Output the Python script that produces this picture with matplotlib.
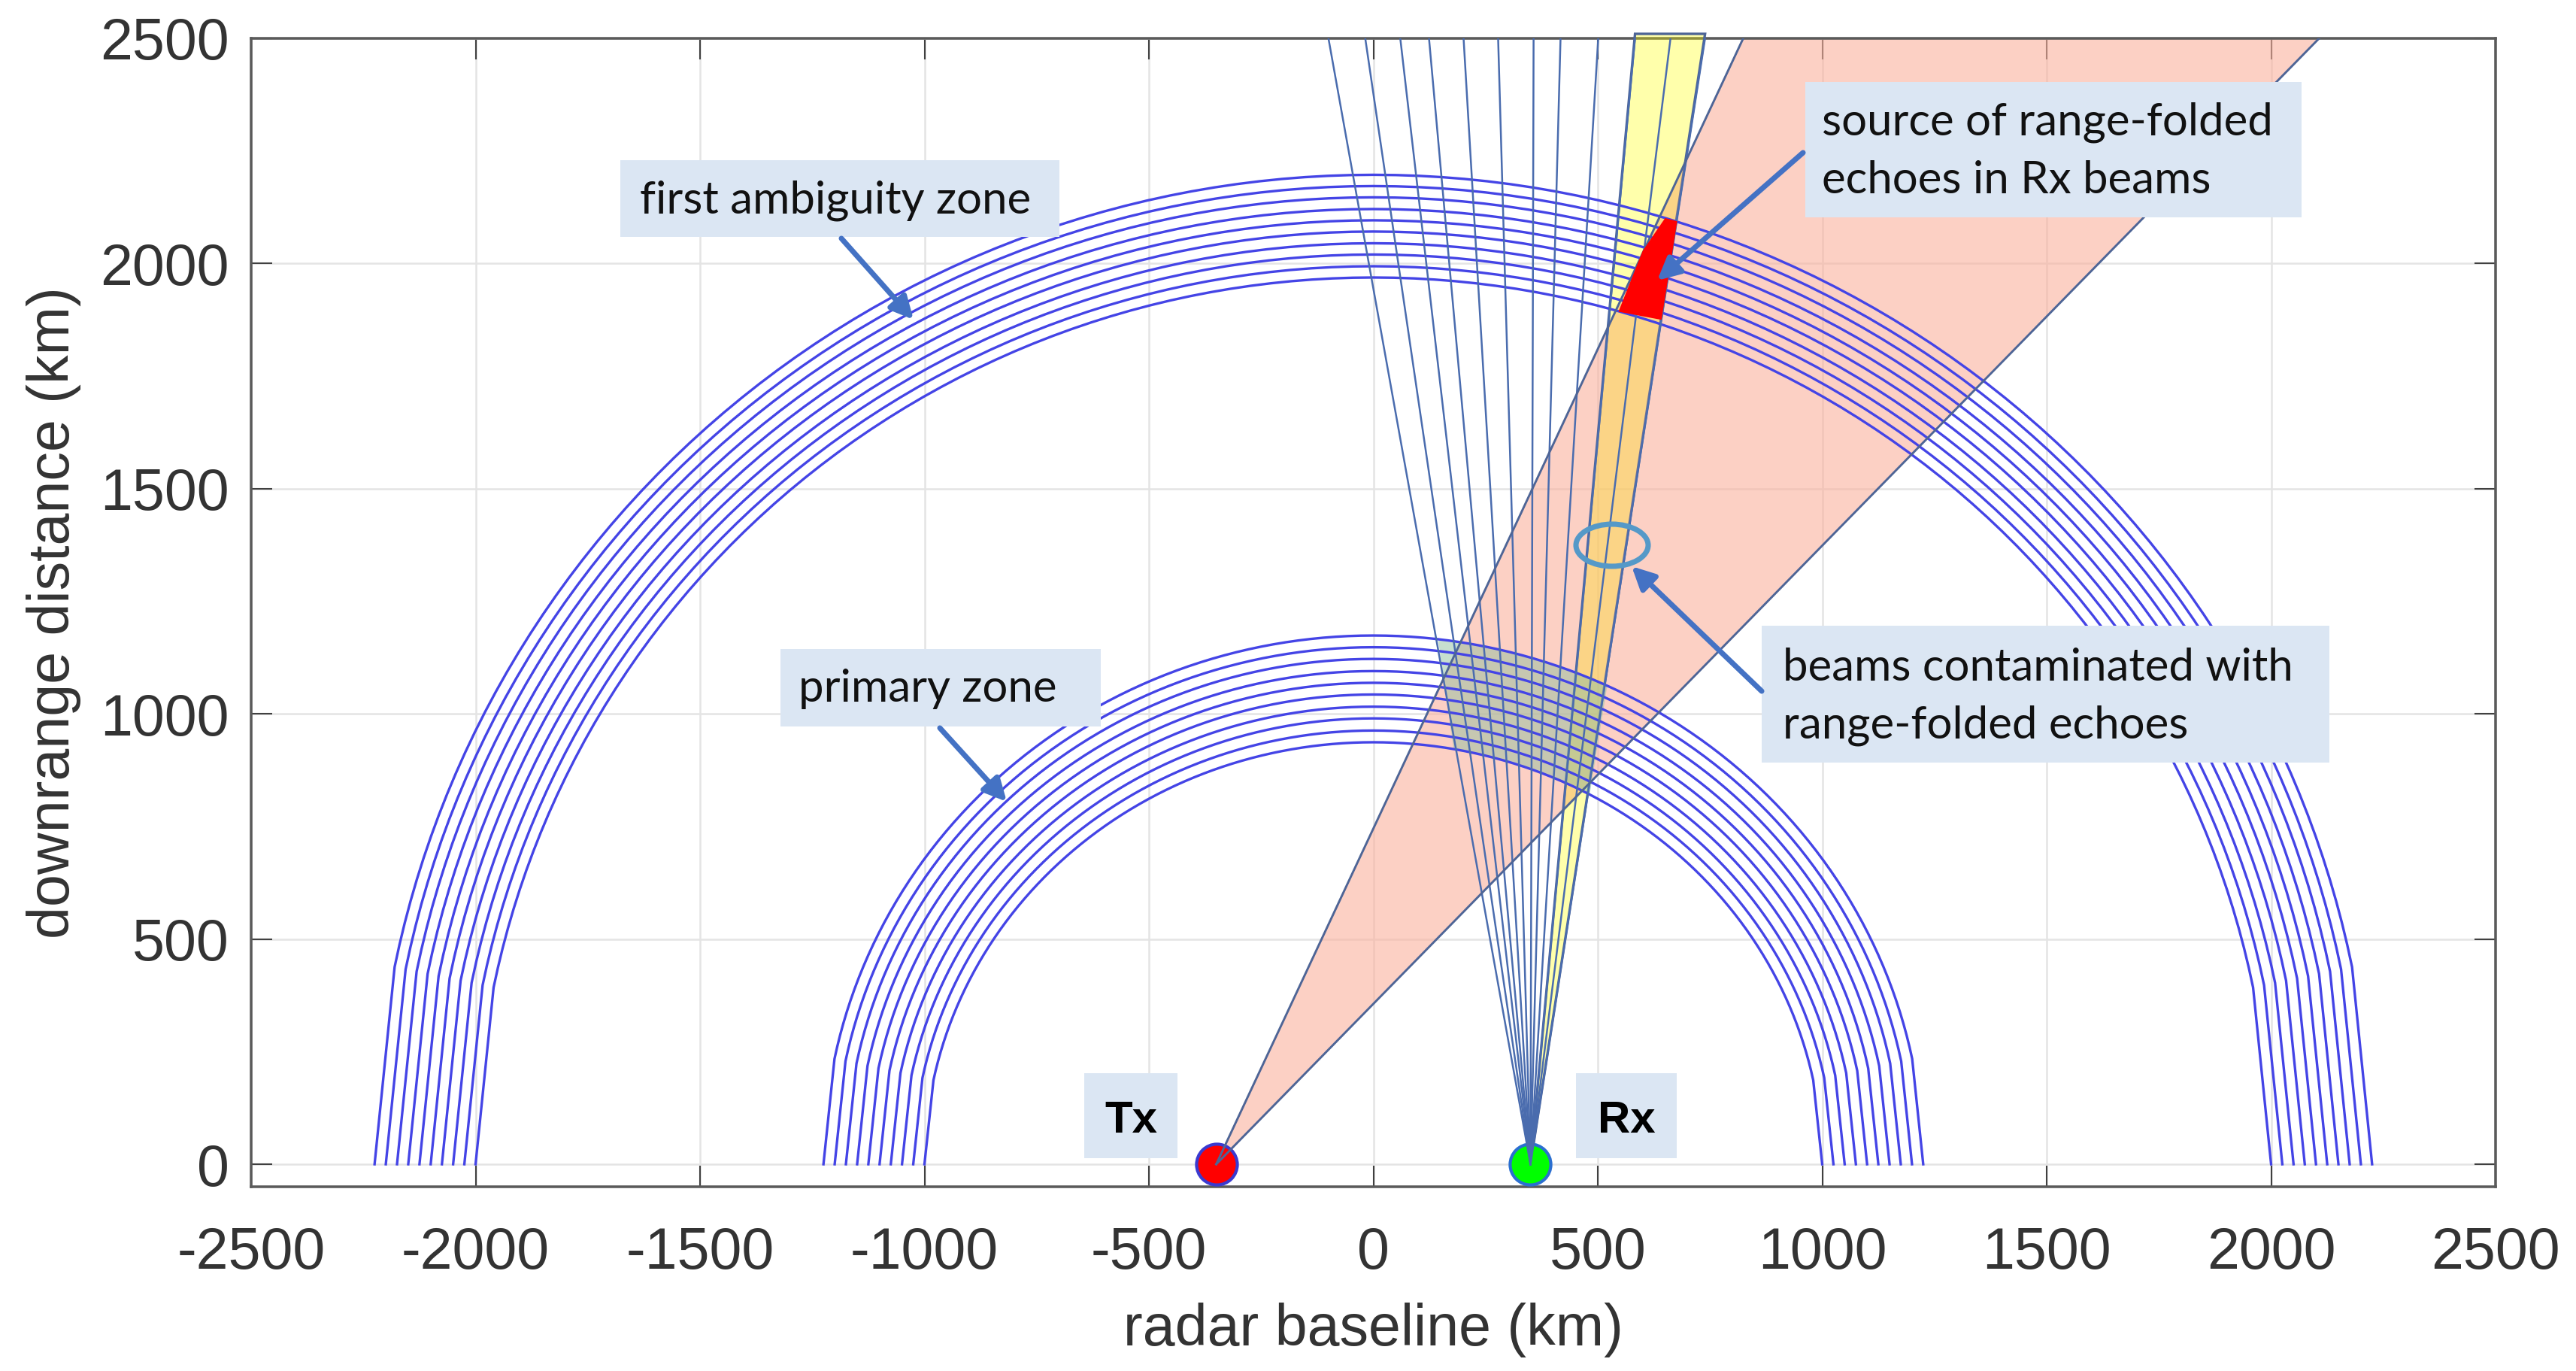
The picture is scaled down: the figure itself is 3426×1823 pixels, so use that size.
#!/usr/bin/env python3

import numpy as np
import matplotlib
matplotlib.use("Agg")
import matplotlib.pyplot as plt
from matplotlib.patches import Ellipse, FancyArrowPatch, Polygon, Rectangle

WIDTH, HEIGHT = 3426, 1823

tx_site = (-350, 0)
rx_site = (350, 0)

# ring semi-axes in km, read from where each ring meets the baseline and its crest
primary_major = [1000, 1025, 1050, 1075, 1100, 1125, 1150, 1175, 1200, 1225]
primary_minor = [937, 963, 990, 1016, 1043, 1069, 1095, 1122, 1148, 1174]
ambiguity_major = [2000, 2025, 2050, 2075, 2100, 2125, 2150, 2175, 2200, 2225]
ambiguity_minor = [1969, 1994, 2020, 2045, 2071, 2096, 2121, 2147, 2172, 2197]

# where the Rx beam edges reach the top of the plot (km)
rx_beam_tops = [-100, -18, 60, 124, 201, 278, 357, 417, 501, 583, 662, 739]
tx_beam_tops = [824, 2107]
top_range = 2500

# shaded cells, corners
primary_cell_x = [144, 250, 350, 450, 521, 482, 350, 250, 179]
primary_cell_y = [1166, 1149, 1125, 1092, 1062, 821, 878, 907, 922]
source_cell_x = [546, 600, 650, 677, 642]
source_cell_y = [1893, 2028, 2101, 2094, 1875]
overlap_x = [423, 482, 697, 523]
overlap_y = [787, 846, 2233, 1859]

x_ticks = [-2500, -2000, -1500, -1000, -500, 0, 500, 1000, 1500, 2000, 2500]
y_ticks = [0, 500, 1000, 1500, 2000, 2500]

RING_COLOR = "#4444E6"
BEAM_COLOR = "#4A6CAE"
EDGE_COLOR = "#4E6596"
BOX_COLOR = "#DBE6F3"
ARROW_COLOR = "#4472C4"

plt.rcParams["font.family"] = ["Liberation Sans", "DejaVu Sans"]
plt.rcParams["axes.unicode_minus"] = False

fig = plt.figure(figsize=(WIDTH / 300, HEIGHT / 300), dpi=300, facecolor="white")
ax = fig.add_axes([334 / WIDTH, 1 - 1578 / HEIGHT, (3319 - 334) / WIDTH, (1578 - 51) / HEIGHT])
ax.set_xlim(-2500, 2500)
ax.set_ylim(-50, 2500)

ax.set_xticks(x_ticks)
ax.set_yticks(y_ticks)
ax.grid(True, color="#E4E4E4", linewidth=0.6)
ax.set_axisbelow(True)
ax.tick_params(axis="both", direction="in", length=6.7, width=0.5, color="#404040",
               top=True, right=True, labelsize=18.5, labelcolor="#333333")
ax.tick_params(axis="x", pad=12.5)
ax.tick_params(axis="y", pad=7)
for spine in ax.spines.values():
    spine.set_linewidth(0.85)
    spine.set_color("#5A5A5A")
ax.set_xlabel("radar baseline (km)", fontsize=18.5, color="#333333", labelpad=7)
ax.set_ylabel("downrange distance (km)", fontsize=18.5, color="#333333", labelpad=6)

# Tx beam
ax.add_patch(Polygon([tx_site, (tx_beam_tops[0], top_range), (tx_beam_tops[1], top_range)],
                     closed=True, facecolor=(250 / 255, 177 / 255, 157 / 255), alpha=0.6,
                     edgecolor="none", zorder=2))

# last Rx beam in yellow, pokes slightly above the frame like the original
ax.add_patch(Polygon([rx_site, (rx_beam_tops[-3], top_range + 10), (rx_beam_tops[-1], top_range + 10)],
                     closed=True, facecolor=(1, 1, 0, 0.33), edgecolor=EDGE_COLOR, linewidth=0.8,
                     clip_on=False, zorder=3))
ax.add_patch(Polygon(list(zip(overlap_x, overlap_y)), closed=True,
                     facecolor=(250 / 255, 170 / 255, 150 / 255, 0.2), edgecolor="none", zorder=3.5))

ax.add_patch(Polygon(list(zip(primary_cell_x, primary_cell_y)), closed=True,
                     facecolor=(145 / 255, 192 / 255, 160 / 255, 0.5), edgecolor="none", zorder=4))

# the rings have one long straight segment next to the baseline
arc_angles = np.radians(np.r_[0, np.linspace(11.5, 168.5, 121), 180])
for major, minor in zip(primary_major + ambiguity_major, primary_minor + ambiguity_minor):
    ax.plot(major * np.cos(arc_angles), minor * np.sin(arc_angles),
            color=RING_COLOR, linewidth=0.8, zorder=5)

ax.plot(tx_site[0], tx_site[1], "o", ms=13, mfc="#FF0000", mec="#3A3AD0", mew=1.0, clip_on=False, zorder=6)
ax.plot(rx_site[0], rx_site[1], "o", ms=13, mfc="#00FF00", mec="#2B6FD0", mew=1.0, clip_on=False, zorder=6)

for top in rx_beam_tops:
    ax.plot([rx_site[0], top], [rx_site[1], top_range], color=BEAM_COLOR, linewidth=0.6, zorder=7)
for top in tx_beam_tops:
    ax.plot([tx_site[0], top], [tx_site[1], top_range], color=EDGE_COLOR, linewidth=0.7, zorder=7)

ax.add_patch(Polygon(list(zip(source_cell_x, source_cell_y)), closed=True,
                     facecolor="#FF0000", edgecolor="none", zorder=8))

# callouts were pasted on top of the plot, so they are placed in pixels
overlay = fig.add_axes([0, 0, 1, 1], facecolor="none")
overlay.set_xlim(0, WIDTH)
overlay.set_ylim(HEIGHT, 0)
overlay.axis("off")

boxes = [
    (825, 213, 1409, 315),
    (1038, 863, 1464, 966),
    (2401, 109, 3061, 289),
    (2343, 832, 3098, 1014),
    (1442, 1427, 1566, 1540),
    (2096, 1427, 2230, 1540),
]
for x0, y0, x1, y1 in boxes:
    overlay.add_patch(Rectangle((x0, y0), x1 - x0, y1 - y0, facecolor=BOX_COLOR, edgecolor="none"))

labels = [
    (851, 283, "first ambiguity zone"),
    (1062, 933, "primary zone"),
    (2423, 179, "source of range-folded"),
    (2423, 257, "echoes in Rx beams"),
    (2371, 905, "beams contaminated with"),
    (2371, 981, "range-folded echoes"),
]
for x, y, label in labels:
    overlay.text(x, y, label, fontsize=14.4, family=["Lato", "DejaVu Sans"], color="#111111",
                 ha="left", va="baseline")

overlay.text(1504, 1506, "Tx", fontsize=14.4, fontweight="bold", color="black", ha="center", va="baseline")
overlay.text(2163, 1506, "Rx", fontsize=14.4, fontweight="bold", color="black", ha="center", va="baseline")

arrows = [
    ((1119, 317), (1215, 425)),
    ((1250, 968), (1339, 1066)),
    ((2398, 203), (2204, 373)),
    ((2343, 919), (2170, 753)),
]
for start, tip in arrows:
    overlay.add_patch(FancyArrowPatch(start, tip, arrowstyle="-|>,head_length=0.5,head_width=0.25",
                                      mutation_scale=12, linewidth=1.7, color=ARROW_COLOR,
                                      shrinkA=0, shrinkB=0))

overlay.add_patch(Ellipse((2144, 725), 96, 56, facecolor="none", edgecolor="#5599C8", linewidth=1.7))

fig.savefig("out.png", dpi=300, facecolor="white")
